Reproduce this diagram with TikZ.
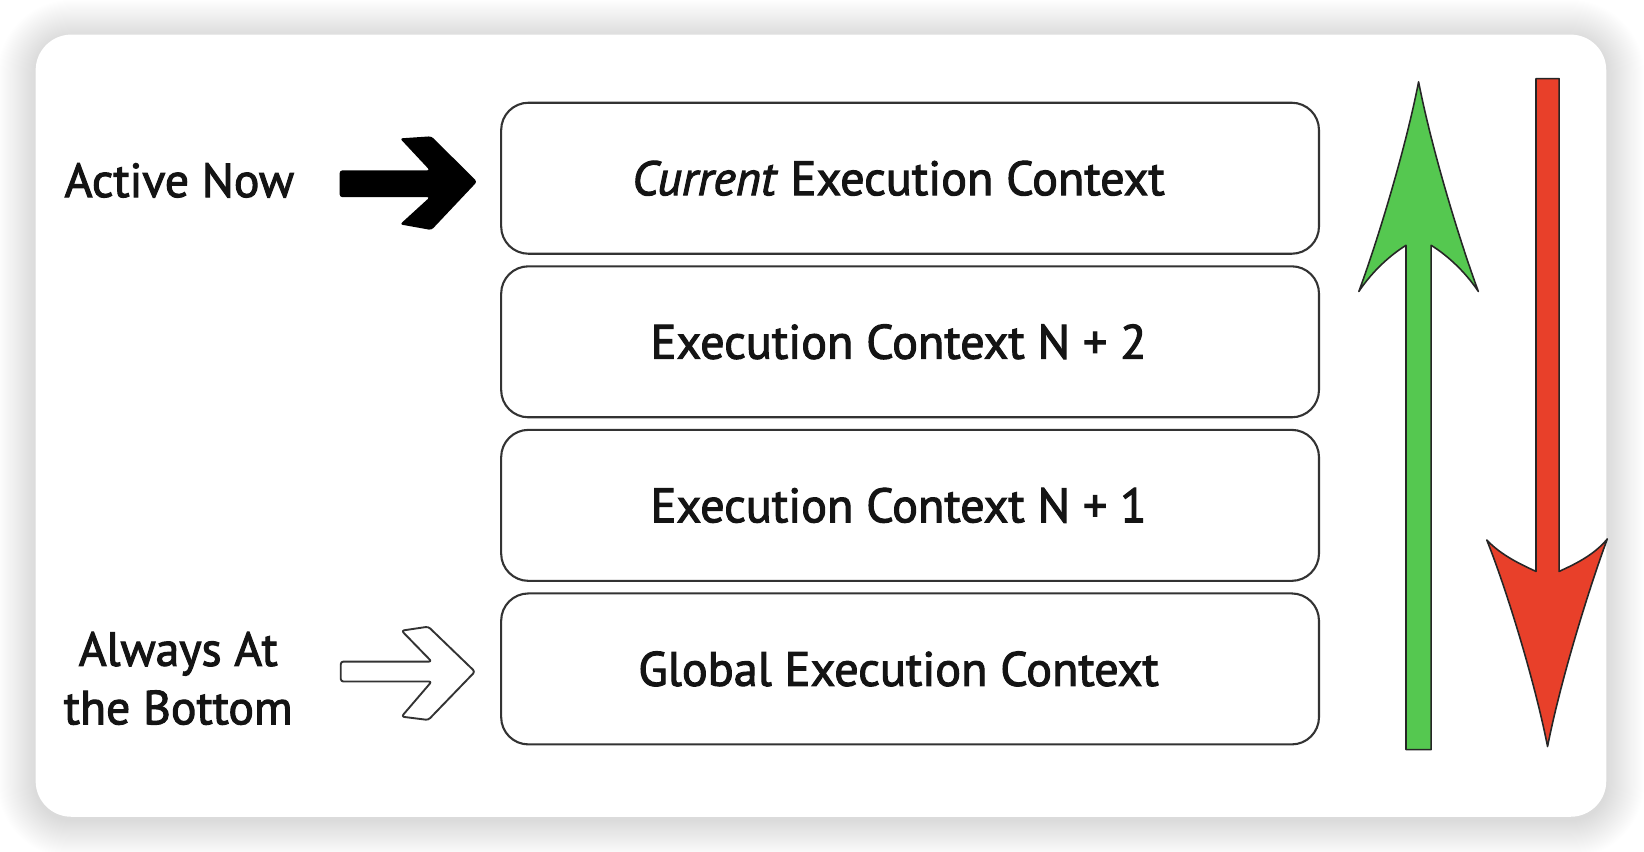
\documentclass[tikz,border=0pt]{standalone}
\usepackage{fontspec}
\setmainfont{PT Sans}[BoldFont=PT Sans, BoldFeatures={FakeBold=2.2}, BoldItalicFont=PT Sans Italic, BoldItalicFeatures={FakeBold=2.2}]
\definecolor{upgreen}{HTML}{55C850}
\definecolor{downred}{HTML}{E8402A}
\begin{document}
\begin{tikzpicture}[x=1pt,y=-1pt,
  ctx/.style={draw=black!80, line width=2pt, rounded corners=26pt, minimum width=780pt, minimum height=144pt, inner sep=0pt, font=\fontsize{46}{56}\selectfont\bfseries, text=black!92},
  lbl/.style={font=\fontsize{45.5}{55.7}\selectfont\bfseries, align=center, inner sep=0pt, text=black!92},
  bigarrow/.style={draw=black!85, line width=1.5pt, line join=round},
  pointer/.style={line join=round, rounded corners=2.5pt},
]
\useasboundingbox (0,0) rectangle (1568,812.6);
\fill[white] (0,0) rectangle (1568,812.6);
% card shadow
\foreach \i in {1,...,36}{
  \pgfmathsetmacro{\rr}{34+\i}
  \fill[black, opacity=0.0045, rounded corners=\rr pt] (34-\i,36-\i) rectangle (1532+\i,782+\i);
}
% card
\fill[white, rounded corners=34pt] (34,33) rectangle (1532,779);

% stack boxes (text sits slightly left of the box centre)
\node[ctx] (c4) at (868,170) {\textit{Current} Execution Context\hspace*{22pt}};
\node[ctx] (c3) at (868,326) {Execution Context N + 2\hspace*{22pt}};
\node[ctx] (c2) at (868,482) {Execution Context N + 1\hspace*{22pt}};
\node[ctx] (c1) at (868,638) {Global Execution Context\hspace*{22pt}};

% labels
\node[lbl] (active) at (171,172) {Active Now};
\node[lbl] (always) at (170,647) {Always At\\the Bottom};

% black pointer
\fill[black, pointer] (324,162.5) -- (410,162.5) -- (381.5,132) -- (411.5,130) -- (455,173.3)
  -- (411.5,219.4) -- (381.5,214) -- (410,188) -- (324,188) -- cycle;
% white pointer
\filldraw[fill=white, draw=black!80, line width=1.8pt, pointer] (325,631) -- (411.7,631) -- (383,601.5)
  -- (408.5,597.7) -- (453,640.6) -- (408.5,686.7) -- (383,683.5) -- (411.7,650) -- (325,650) -- cycle;

% green up arrow
\filldraw[fill=upgreen, bigarrow] (1341,715) -- (1341,234)
  .. controls (1328,242) and (1310,257) .. (1296,278)
  .. controls (1312,235) and (1340,145) .. (1353,78)
  .. controls (1366,145) and (1394,235) .. (1410,278)
  .. controls (1396,257) and (1378,242) .. (1365,234)
  -- (1365,715) -- cycle;

% red down arrow
\filldraw[fill=downred, bigarrow] (1465,75) -- (1465,545)
  .. controls (1452,539) and (1432,530) .. (1418,515)
  .. controls (1435,557) and (1463,646) .. (1476,712)
  .. controls (1489,646) and (1517,557) .. (1533,514)
  .. controls (1520,530) and (1500,539) .. (1487,545)
  -- (1487,75) -- cycle;
\end{tikzpicture}
\end{document}
